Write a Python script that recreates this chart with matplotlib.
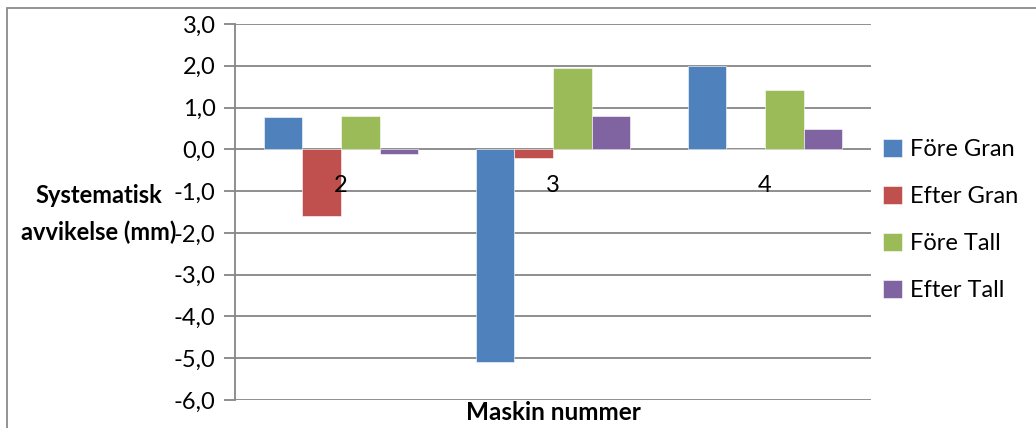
import numpy as np
import matplotlib.pyplot as plt
from matplotlib.patches import Rectangle

plt.rcParams['font.family'] = ['Lato', 'DejaVu Sans']

# Maskiner og avvik (mm)
maskiner = ['2', '3', '4']
serier = ['Före Gran', 'Efter Gran', 'Före Tall', 'Efter Tall']
fore_gran = [0.77, -5.10, 1.99]
efter_gran = [-1.60, -0.21, 0.0]
fore_tall = [0.80, 1.95, 1.41]
efter_tall = [-0.10, 0.79, 0.49]
farger = ['#4F81BD', '#C0504D', '#9BBB59', '#8064A2']
yticks = np.arange(-6, 4, 1)

fig = plt.figure(figsize=(10.36, 4.28), dpi=100)
ax = fig.add_axes([235 / 1036, 28 / 428, 636 / 1036, 376 / 428])

# Ramme rundt diagrammet
fig.patches.append(Rectangle((7 / 1036, -0.1), 1.2, 1 - 8 / 428 + 0.1,
                             transform=fig.transFigure, fill=False,
                             edgecolor='#8a8a8a', linewidth=1.3))

x = np.arange(len(maskiner))
b = 1 / 5.5  # 150 % gap mellom gruppene
data = [fore_gran, efter_gran, fore_tall, efter_tall]
for i, (navn, verdier) in enumerate(zip(serier, data)):
    ax.bar(x + (i - 1.5) * b, verdier, width=b, color=farger[i],
           edgecolor='white', linewidth=0.4, label=navn, zorder=3)

ax.set_xlim(-0.5, 2.5)
ax.set_ylim(-6, 3)
ax.set_yticks(yticks)
ax.set_yticklabels([f'{v:.1f}'.replace('.', ',') for v in yticks], fontsize=17)
ax.tick_params(axis='y', length=8, width=1.3, color='#868686', pad=6)
ax.set_xticks([])
ax.grid(axis='y', color='#868686', linewidth=1.3, zorder=0)
for s in ['top', 'right', 'bottom']:
    ax.spines[s].set_visible(False)
ax.spines['left'].set_color('#868686')
ax.spines['left'].set_linewidth(1.3)

# Kategorietiketter under nullinjen
for xi, m in zip(x, maskiner):
    ax.text(xi, -0.86, m, ha='center', va='center', fontsize=17)

fig.text(99 / 1036, 1 - 214 / 428, 'Systematisk\navvikelse (mm)', ha='center',
         va='center', fontsize=17, fontweight='bold', linespacing=1.65)
fig.text(553 / 1036, 1 - 413 / 428, 'Maskin nummer', ha='center', va='center',
         fontsize=17.5, fontweight='bold')

fig.legend(loc='center left', bbox_to_anchor=(862 / 1036, 1 - 220 / 428),
           frameon=False, fontsize=17, handlelength=0.8, handleheight=0.8,
           handletextpad=0.35, labelspacing=1.1)

fig.savefig('out.png', dpi=100)
